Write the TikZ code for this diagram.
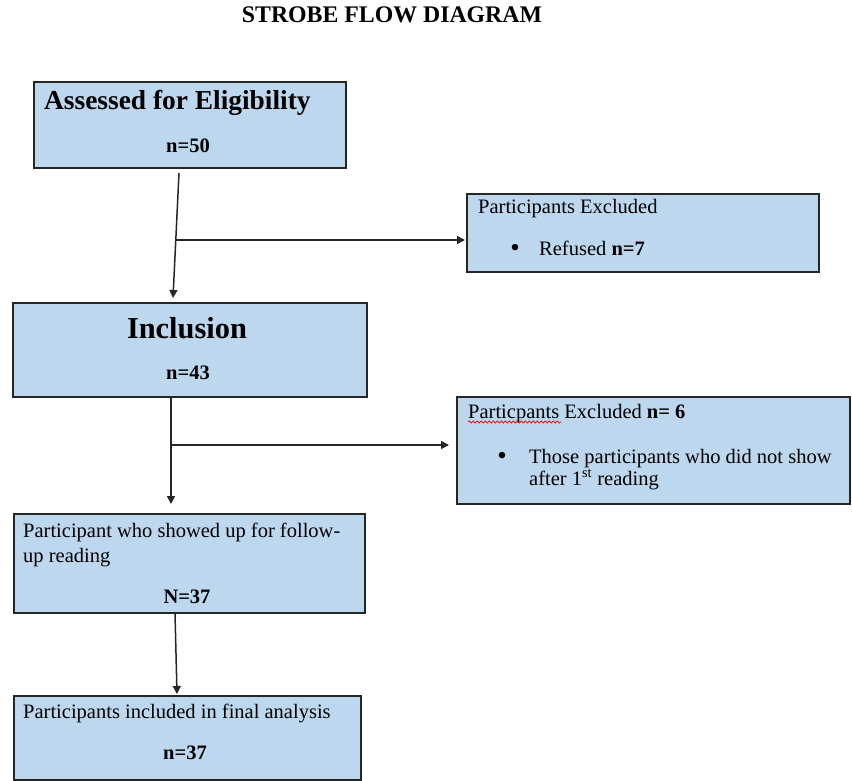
\documentclass[tikz,border=0pt]{standalone}
\usepackage{fontspec}
\setmainfont{Liberation Serif}
\usetikzlibrary{arrows.meta,decorations.pathmorphing,calc}
\definecolor{boxfill}{RGB}{189,215,238}
\definecolor{boxline}{RGB}{38,38,38}
\definecolor{spell}{RGB}{220,30,30}
\tikzset{
  box/.style={draw=boxline, line width=2pt, fill=boxfill, anchor=north west, inner sep=0pt},
  txt/.style={anchor=base west, inner sep=0pt, font=\fontsize{20.5}{24}\selectfont},
  ctr/.style={anchor=base, inner sep=0pt, font=\fontsize{20.5}{24}\selectfont\bfseries},
  bul/.style={anchor=base, inner sep=0pt, font=\fontsize{27}{30}\selectfont},
  arr/.style={draw=boxline, line width=1.5pt, -{Triangle[length=8pt,width=8pt]}},
}
\begin{document}
\begin{tikzpicture}[x=1pt,y=-1pt]
\useasboundingbox (0,0) rectangle (852,781);
% title
\node[anchor=base, inner sep=0pt, font=\fontsize{23.8}{28}\selectfont\bfseries] (title) at (392,23) {STROBE FLOW DIAGRAM};
% boxes
\node[box, minimum width=312pt, minimum height=86pt] (b1) at (33,81) {};
\node[box, minimum width=352pt, minimum height=78pt] (b2) at (466,193) {};
\node[box, minimum width=354pt, minimum height=94pt] (b3) at (12,302) {};
\node[box, minimum width=393pt, minimum height=107pt] (b4) at (456,396) {};
\node[box, minimum width=351pt, minimum height=99pt] (b5) at (13,513) {};
\node[box, minimum width=347pt, minimum height=84pt] (b6) at (13,695) {};
% box 1 texts
\node[txt, font=\fontsize{27.4}{30}\selectfont\bfseries] (t1a) at (44,110) {Assessed for Eligibility};
\node[ctr] (t1b) at (188,153) {n=50};
% box 2 texts
\node[txt] (t2a) at (478,214) {Participants Excluded};
\node[bul] (t2dot) at (515,256) {•};
\node[txt] (t2b) at (539,255) {Refused \textbf{n=7}};
% box 3 texts
\node[anchor=base, inner sep=0pt, font=\fontsize{30.4}{34}\selectfont\bfseries] (t3a) at (187,338) {Inclusion};
\node[ctr] (t3b) at (188,379) {n=43};
% box 4 texts
\node[txt] (t4a) at (468,418) {Particpants Excluded \textbf{n= 6}};
\node[bul] (t4dot) at (502,464) {•};
\node[txt] (t4b) at (529,463) {Those participants who did not show};
\node[txt] (t4c) at (529,485) {after 1\textsuperscript{st} reading};
\draw[spell, line width=0.8pt, decorate, decoration={snake, amplitude=1pt, segment length=4pt}] (468,422) -- (561,422);
% box 5 texts
\node[txt] (t5a) at (23,537) {Participant who showed up for follow-};
\node[txt] (t5b) at (23,562) {up reading};
\node[ctr] (t5c) at (187,603) {N=37};
% box 6 texts
\node[txt] (t6a) at (23,718) {Participants included in final analysis};
\node[ctr] (t6b) at (185,759) {n=37};
% connectors
\coordinate (a1s) at (179,173);
\coordinate (a1j) at (175.7,240);
\coordinate (a1e) at (173,298);
\draw[arr] (a1s) -- (a1e);
\draw[arr, shorten >=1pt] (a1j) -- (b2.west |- a1j);
\coordinate (a2s) at (171,397);
\coordinate (a2j) at (171,445);
\coordinate (a2e) at (171,504);
\draw[arr] (a2s) -- (a2e);
\draw[arr, shorten >=7pt] (a2j) -- (b4.west |- a2j);
\coordinate (a3s) at (175,613);
\coordinate (a3e) at (177,694);
\draw[arr] (a3s) -- (a3e);
\end{tikzpicture}
\end{document}
